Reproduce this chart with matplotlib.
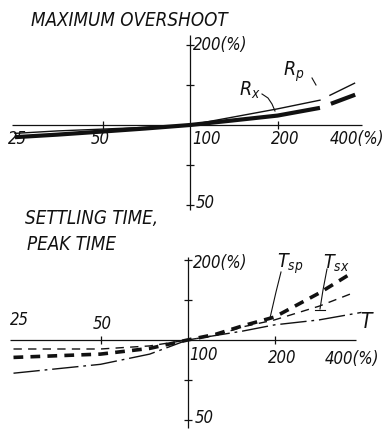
import numpy as np
import matplotlib
matplotlib.use("Agg")
import matplotlib.pyplot as plt
from matplotlib.lines import Line2D

# ---------------- data (percent of nominal) ----------------
x_R = [25, 35, 50, 70, 100, 140, 200, 280, 370]
Rx = [90, 92, 94.5, 97, 100, 104, 108.5, 116, 130]
Rp = [93, 95, 96.5, 98, 100, 107, 115, 124, 144]

x_tsp = [25, 50, 74, 100, 125, 155, 200, 285, 365]
tsp = [86, 88.5, 93, 100, 105, 113, 122, 150, 177]
x_tsx = [25, 50, 74, 100, 125, 155, 200, 285, 372]
tsx = [92.5, 92.5, 95, 100, 104, 112, 119, 134, 150]
x_T = [25, 50, 74, 100, 155, 200, 285, 400]
T = [75, 81, 88.5, 100, 108, 114, 119, 127]

x_tick_vals = [50, 200]
y_tick_vals = [200, 141, 71, 50]
x_labels = ["25", "50", "100", "200", "400(%)"]
y_labels = ["200(%)", "50"]
ext_split = 280   # solid up to here, extrapolated (dashed) beyond

W, H = 387, 430
fig = plt.figure(figsize=(W / 100, H / 100), dpi=100)
fig.patch.set_facecolor("white")

FONT = dict(family="DejaVu Sans", style="italic", stretch="condensed", color="#111111")


def P(px, py):
    return (px / W, 1 - py / H)


def make_ax(box_top, box_bot, ox, sx, oy, sy):
    ax = fig.add_axes([0, 1 - box_bot / H, 1, (box_bot - box_top) / H])
    ax.set_xscale("log", base=2)
    ax.set_yscale("log", base=2)
    ax.set_xlim(100 * 2 ** ((0 - ox) / sx), 100 * 2 ** ((W - ox) / sx))
    ax.set_ylim(100 * 2 ** (-(box_bot - oy) / sy), 100 * 2 ** ((oy - box_top) / sy))
    ax.axis("off")
    return ax


def draw_axes(ax, hx, vy):
    ax.plot(hx, [100, 100], color="#111111", lw=0.9, solid_capstyle="butt")
    ax.plot([100, 100], vy, color="#111111", lw=0.9, solid_capstyle="butt")
    ax.plot(x_tick_vals, [100] * len(x_tick_vals), ls="none", marker="|",
            ms=6, mew=0.9, color="#111111")
    ax.plot([100] * len(y_tick_vals), y_tick_vals, ls="none", marker="_",
            ms=6, mew=0.9, color="#111111")


def split(xs, ys):
    xs = np.array(xs, float)
    ys = np.array(ys, float)
    a = xs <= ext_split
    b = xs >= ext_split
    return xs[a], ys[a], xs[b], ys[b]


# ---------------- top panel: maximum overshoot ----------------
ax1 = make_ax(25, 215, 190, 87.5, 125, 80)
draw_axes(ax1, [24.4, 390], [218, 48])

xa, ya, xb, yb = split(x_R, Rp)
ax1.plot(xa, ya, color="#111111", lw=1.0)
ax1.plot(xb, yb, color="#111111", lw=1.0, ls=(21.0, (21.0, 7.5)))
xa, ya, xb, yb = split(x_R, Rx)
ax1.plot(xa, ya, color="#111111", lw=3.0, solid_capstyle="butt")
ax1.plot(xb, yb, color="#111111", lw=3.0, ls=(6.8, (6.8, 2.8)))

# ---------------- bottom panel: settling / peak time ----------------
ax2 = make_ax(245, 430, 187.5, 87, 340, 80)
draw_axes(ax2, [24.3, 383], [205, 46.7])

ax2.plot(x_T, T, color="#111111", lw=1.0, ls=(0, (19, 3.5, 2, 3.5)))
ax2.plot(x_tsx, tsx, color="#111111", lw=1.0, ls=(0, (6, 4.5)))
ax2.plot(x_tsp, tsp, color="#111111", lw=2.6, ls=(0, (2.7, 2.0)))

# ---------------- texts ----------------
fig.text(*P(31, 20), "MAXIMUM OVERSHOOT", fontsize=13.5, ha="left", va="center", **FONT)
fig.text(*P(25, 219), "SETTLING TIME,", fontsize=13.5, ha="left", va="center", **FONT)
fig.text(*P(27, 245), "PEAK TIME", fontsize=13.5, ha="left", va="center", **FONT)

fs = 12
# top panel tick labels
fig.text(*P(193, 45), y_labels[0], fontsize=fs, ha="left", va="center", **FONT)
fig.text(*P(196, 203), y_labels[1], fontsize=fs, ha="left", va="center", **FONT)
for lab, px in zip(x_labels, [17, 100, 207, 285, 357]):
    fig.text(*P(px, 139), lab, fontsize=fs, ha="center", va="center", **FONT)
# bottom panel tick labels
fig.text(*P(193, 263), y_labels[0], fontsize=fs, ha="left", va="center", **FONT)
fig.text(*P(195, 418), y_labels[1], fontsize=fs, ha="left", va="center", **FONT)
for lab, px, py in zip(x_labels, [19, 102, 204, 282, 352], [320, 324, 355, 358, 359]):
    fig.text(*P(px, py), lab, fontsize=fs, ha="center", va="center", **FONT)

# curve labels
fig.text(*P(283, 72), r"R$_\mathregular{p}$", fontsize=14, ha="left", va="center", **FONT)
fig.text(*P(239, 90), r"R$_\mathregular{x}$", fontsize=14, ha="left", va="center", **FONT)
fig.text(*P(277, 264), r"T$_\mathregular{sp}$", fontsize=14, ha="left", va="center", **FONT)
fig.text(*P(323, 263), r"T$_\mathregular{sx}$", fontsize=14, ha="left", va="center", **FONT)
fig.text(*P(360, 322), "T", fontsize=15, ha="left", va="center", **FONT)


def leader(pts, lw=0.8):
    xs = [p[0] / W for p in pts]
    ys = [1 - p[1] / H for p in pts]
    fig.add_artist(Line2D(xs, ys, transform=fig.transFigure, color="#111111", lw=lw))


leader([(262, 94), (268, 98), (272, 104), (275, 111)])
leader([(312, 78), (316, 85)])
leader([(281, 272), (276, 292), (270, 318)])
leader([(327, 269), (323, 290), (320, 309)])
leader([(315, 310), (325, 310)])

fig.savefig("out.png", dpi=100, facecolor="white")
